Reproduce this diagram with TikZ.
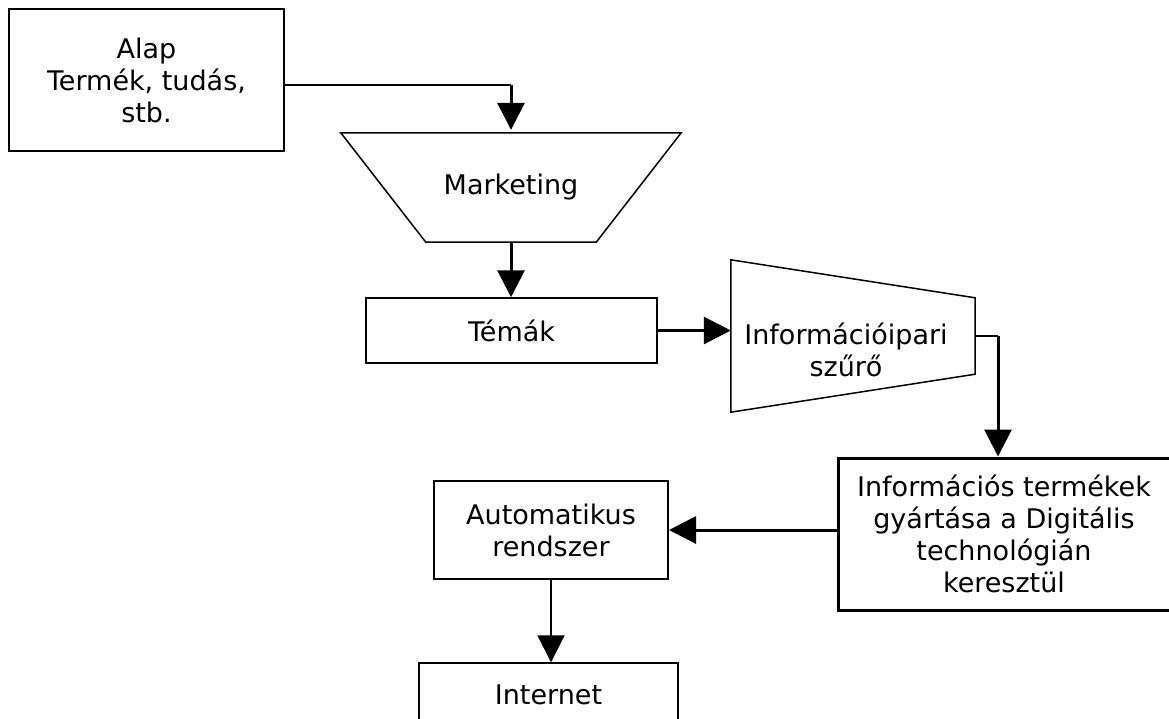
\documentclass[tikz,border=0pt]{standalone}
\usepackage{fontspec}
\setmainfont{DejaVu Sans}
\usetikzlibrary{arrows.meta,calc}

\tikzset{
  lbl/.style={font=\fontsize{27}{32}\selectfont, align=center, inner sep=0pt},
  box/.style={lbl, draw, line width=1.5pt, rectangle},
  shapearea/.style={lbl, rectangle},
  outline/.style={draw, line width=1.5pt, line join=miter},
  thinline/.style={line width=1.5pt},
  flow/.style={line width=3pt, -{Triangle[length=27pt,width=27pt]}},
  flowthin/.style={line width=2pt, -{Triangle[length=27pt,width=27pt]}}
}

\begin{document}
\begin{tikzpicture}[x=1pt, y=-1pt]
  \useasboundingbox (0,0) rectangle (1169,718);
  \clip (0,0) rectangle (1169,718);
  \fill[white] (0,0) rectangle (1169,718);

  % boxes
  \node[box, line width=2pt, minimum width=275pt, minimum height=142pt] (alap) at (146.5,80)
    {Alap\\Termék, tudás,\\stb.};
  \node[box, minimum width=291pt, minimum height=65pt] (tem) at (511.5,330.5) {Témák};
  \node[box, line width=2pt, minimum width=234pt, minimum height=98pt] (auto) at (551,530)
    {Automatikus\\rendszer};
  \node[box, line width=3pt, minimum width=332pt, minimum height=152pt] (info) at (1004,534)
    {Információs termékek\\gyártása a Digitális\\technológián\\keresztül};
  \node[box, minimum width=259pt, minimum height=64pt] (inet) at (548.5,695) {Internet};

  % marketing funnel (wide top, narrow bottom)
  \node[shapearea, minimum width=340pt, minimum height=109pt] (mkt) at (511,187.5) {Marketing};
  \draw[outline] (mkt.north west) -- (mkt.north east)
    -- ([xshift=-85pt]mkt.south east) -- ([xshift=85pt]mkt.south west) -- cycle;

  % filter (tall left side, short right side)
  \node[shapearea, minimum width=244pt, minimum height=152pt] (flt) at (853,336) {};
  \draw[outline] (flt.north west) -- ([yshift=-38pt]flt.north east)
    -- ([yshift=38pt]flt.south east) -- (flt.south west) -- cycle;
  \node[lbl] (flttext) at (846,350) {Információipari\\szűrő};

  % connectors
  \coordinate (c1) at ($(alap.east)+(0,5)$);
  \coordinate (c2) at (c1 -| mkt.north);
  \draw[thinline] (c1) -- (c2);
  \draw[flow] (c2) -- ([yshift=3pt]mkt.north);

  \draw[flow] (mkt.south) -- (mkt.south |- tem.north);
  \draw[flow] (tem.east) -- (tem.east -| flt.west);

  \coordinate (c3) at (998,336);
  \draw[thinline] (flt.east) -- (c3);
  \draw[flow] (c3) -- (c3 |- info.north);

  \draw[flow] (info.west |- auto.east) -- (auto.east);
  \draw[flowthin] (auto.south) -- (auto.south |- inet.north);
\end{tikzpicture}
\end{document}
